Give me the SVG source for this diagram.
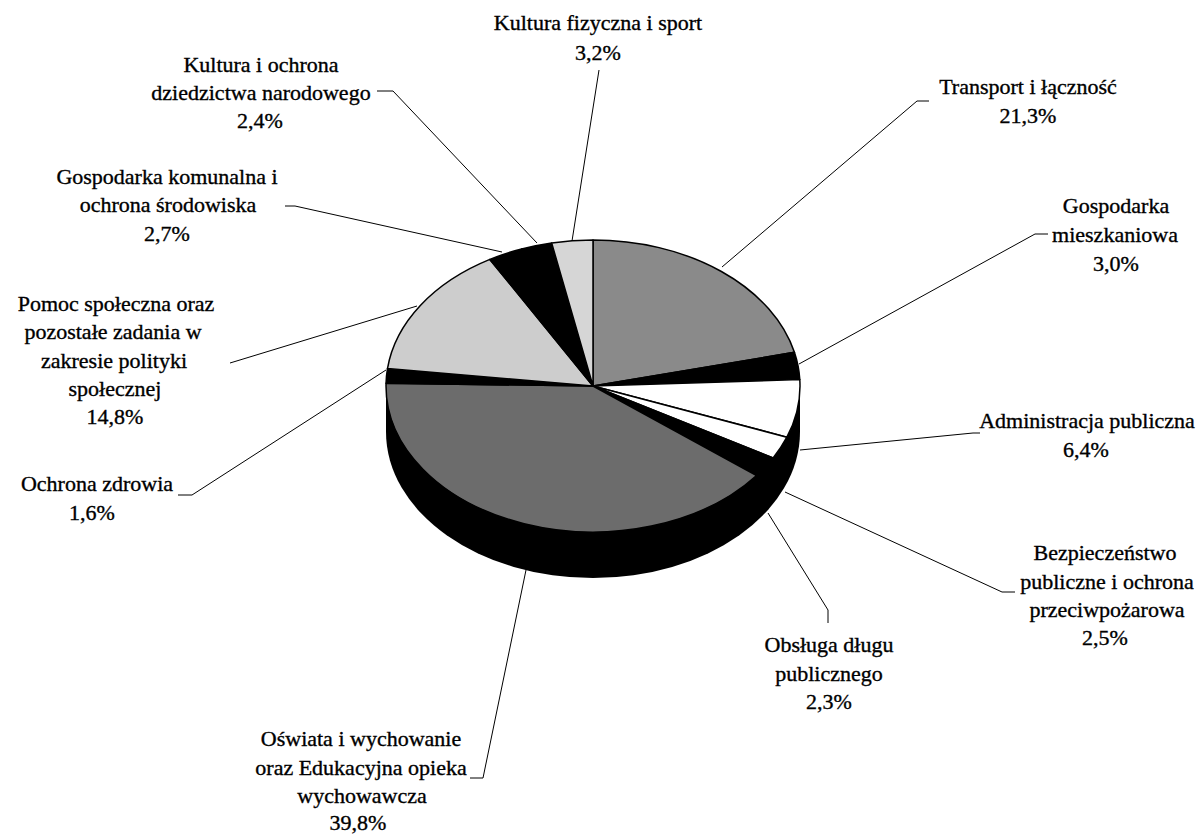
<svg xmlns="http://www.w3.org/2000/svg" width="1200" height="836" viewBox="0 0 1200 836">
<style>
  text { font-family: "Liberation Serif", "DejaVu Serif", "Times New Roman", serif; font-size: 22px; fill: #000; stroke: #000; stroke-width: 0.35; text-anchor: middle; }
  .lead { fill: none; stroke: #000; stroke-width: 1; }
  .sl { stroke: #000; stroke-width: 1.5; stroke-linejoin: round; }
  .blk { fill: #000; }
  .mid { fill: #8a8a8a; }
  .dark { fill: #6c6c6c; }
  .lite { fill: #cdcdcd; }
  .lite2 { fill: #d6d6d6; }
  .wht { fill: #fff; }
</style>
<rect width="1200" height="836" fill="#fff"/>

<g id="pie">
  <!-- side wall -->
  <ellipse cx="593" cy="432" rx="207" ry="146" fill="#000"/>
  <rect x="386" y="386" width="414" height="46" fill="#000"/>
  <!-- top face slices -->
  <path id="s-transport" class="sl mid" d="M593,386 L593,240 A207,146 0 0 1 794.43,352.36 Z"/>
  <path id="s-mieszkaniowa" class="sl blk" d="M593,386 L794.43,352.36 A207,146 0 0 1 799.8,379.58 Z"/>
  <path id="s-administracja" class="sl wht" d="M593,386 L799.8,379.58 A207,146 0 0 1 786.87,437.18 Z"/>
  <path id="s-bezpieczenstwo" class="sl wht" d="M593,386 L786.87,437.18 A207,146 0 0 1 773.11,457.93 Z"/>
  <path id="s-obsluga" class="sl blk" d="M593,386 L773.11,457.93 A207,146 0 0 1 756.56,475.48 Z"/>
  <path id="s-oswiata" class="sl dark" d="M593,386 L756.56,475.48 A207,146 0 0 1 386.04,383.25 Z"/>
  <path id="s-zdrowie" class="sl blk" d="M593,386 L386.04,383.25 A207,146 0 0 1 387.47,368.61 Z"/>
  <path id="s-pomoc" class="sl lite" d="M593,386 L387.47,368.61 A207,146 0 0 1 489.88,259.41 Z"/>
  <path id="s-komunalna" class="sl blk" d="M593,386 L489.88,259.41 A207,146 0 0 1 521.66,248.94 Z"/>
  <path id="s-kultura" class="sl blk" d="M593,386 L521.66,248.94 A207,146 0 0 1 551.66,242.94 Z"/>
  <path id="s-sport" class="sl lite2" d="M593,386 L551.66,242.94 A207,146 0 0 1 593,240 Z"/>
</g>

<g id="connectors">
  <polyline class="lead" points="599,70 572,241"/>
  <polyline class="lead" points="377,91 393,91 537,243"/>
  <polyline class="lead" points="285,206 295,206 502,252"/>
  <polyline class="lead" points="230,363 417,306"/>
  <polyline class="lead" points="178,495 192,495 386,370"/>
  <polyline class="lead" points="929,101 917,101 722,267"/>
  <polyline class="lead" points="1048,234 1035,234 799,364"/>
  <polyline class="lead" points="800,450 973,433 980,433"/>
  <polyline class="lead" points="785,492 1002,592 1015,592"/>
  <polyline class="lead" points="768,513 828,610 828,623"/>
  <polyline class="lead" points="470,778 483,778 526,570"/>
</g>

<g id="label-sport"><text x="598" y="30">Kultura fizyczna i sport</text><text x="598" y="60">3,2%</text></g>
<g id="label-kultura"><text x="261" y="72">Kultura i ochrona</text><text x="261" y="100">dziedzictwa narodowego</text><text x="260" y="128">2,4%</text></g>
<g id="label-komunalna"><text x="167" y="184">Gospodarka komunalna i</text><text x="168" y="212">ochrona środowiska</text><text x="167" y="241">2,7%</text></g>
<g id="label-pomoc"><text x="116" y="311">Pomoc społeczna oraz</text><text x="113" y="339">pozostałe zadania w</text><text x="114" y="368">zakresie polityki</text><text x="115" y="396">społecznej</text><text x="115" y="424">14,8%</text></g>
<g id="label-zdrowie"><text x="97" y="491">Ochrona zdrowia</text><text x="92" y="520">1,6%</text></g>
<g id="label-transport"><text x="1028" y="94">Transport i łączność</text><text x="1028" y="123">21,3%</text></g>
<g id="label-mieszkaniowa"><text x="1116" y="213">Gospodarka</text><text x="1115" y="242">mieszkaniowa</text><text x="1116" y="271">3,0%</text></g>
<g id="label-administracja"><text x="1087" y="428">Administracja publiczna</text><text x="1086" y="457">6,4%</text></g>
<g id="label-bezpieczenstwo"><text x="1105" y="560">Bezpieczeństwo</text><text x="1107" y="589">publiczne i ochrona</text><text x="1107" y="617">przeciwpożarowa</text><text x="1105" y="645">2,5%</text></g>
<g id="label-obsluga"><text x="829" y="652">Obsługa długu</text><text x="829" y="681">publicznego</text><text x="829" y="709">2,3%</text></g>
<g id="label-oswiata"><text x="361" y="746">Oświata i wychowanie</text><text x="361" y="775">oraz Edukacyjna opieka</text><text x="362" y="803">wychowawcza</text><text x="358" y="830">39,8%</text></g>
</svg>
